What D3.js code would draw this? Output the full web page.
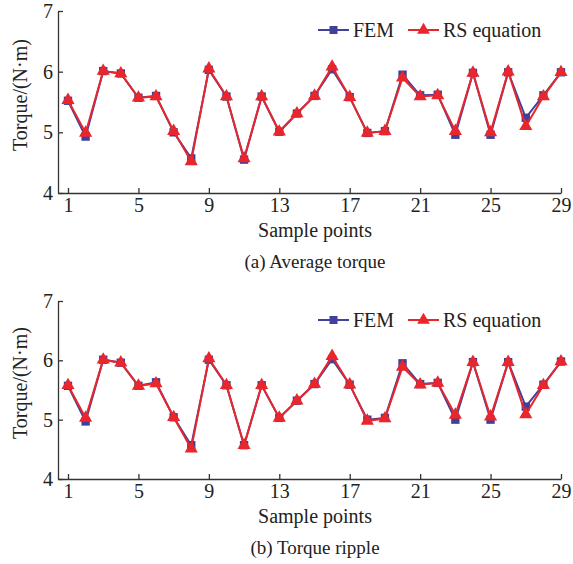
<!DOCTYPE html>
<html>
<head>
<meta charset="utf-8">
<script src="https://cdn.jsdelivr.net/npm/d3@7"></script>
<style>
  body { margin: 0; background: #fff; }
  svg text { font-family: "Liberation Serif", "Times New Roman", serif; fill: #222; }
  .axis path, .axis line { stroke: #333; stroke-width: 1.3; }
</style>
</head>
<body>
<svg id="chart" width="573" height="564"></svg>
<script>
const samples = d3.range(1, 30);
const xTicks = [1, 5, 9, 13, 17, 21, 25, 29];
const yTicks = [4, 5, 6, 7];

// (a) Average torque
const avgFEM = [5.52, 4.93, 6.01, 5.97, 5.57, 5.60, 5.00, 4.57, 6.03, 5.59,
                4.55, 5.59, 5.01, 5.31, 5.60, 6.04, 5.58, 4.99, 5.02, 5.95,
                5.61, 5.62, 4.96, 5.98, 4.96, 5.99, 5.24, 5.61, 5.99];
const avgRS  = [5.53, 4.99, 6.01, 5.97, 5.57, 5.59, 5.02, 4.52, 6.05, 5.59,
                4.57, 5.59, 5.01, 5.31, 5.60, 6.08, 5.58, 4.99, 5.02, 5.90,
                5.59, 5.61, 5.02, 5.98, 5.00, 6.00, 5.10, 5.59, 5.99];

// (b) Torque ripple
const ripFEM = [5.57, 4.97, 6.01, 5.96, 5.57, 5.63, 5.04, 4.57, 6.01, 5.58,
                4.57, 5.58, 5.03, 5.32, 5.60, 6.02, 5.59, 5.00, 5.03, 5.95,
                5.60, 5.62, 5.00, 5.97, 5.00, 5.97, 5.22, 5.59, 5.98];
const ripRS  = [5.58, 5.03, 6.01, 5.96, 5.57, 5.61, 5.04, 4.51, 6.03, 5.58,
                4.57, 5.58, 5.03, 5.32, 5.60, 6.07, 5.59, 4.98, 5.02, 5.89,
                5.59, 5.62, 5.08, 5.97, 5.05, 5.97, 5.09, 5.58, 5.98];

const seriesNames = ["FEM", "RS equation"];
const colors = {"FEM": "#41419a", "RS equation": "#e8262b"};

const svg = d3.select("#chart");

const styleAxis = a => {
  a.attr("font-family", null).attr("font-size", null);
  a.selectAll("text").attr("font-size", 20).attr("fill", "#222");
};

const drawPanel = (top, bottom, fem, rs, title) => {
  const left = 58, right = 561, first = 68;
  // x=1 sits a little right of the y axis
  const unit = (right - first) / 28;
  const x = d3.scaleLinear().domain([1 - (first - left) / unit, 29]).range([left, right]);
  const y = d3.scaleLinear().domain([4, 7]).range([bottom, top]);
  const g = svg.append("g");

  g.append("g").attr("class", "axis")
    .attr("transform", `translate(0,${bottom})`)
    .call(d3.axisBottom(x).tickValues(xTicks).tickFormat(d3.format("d"))
      .tickSizeInner(-5).tickSizeOuter(0).tickPadding(5))
    .call(styleAxis);

  g.append("g").attr("class", "axis")
    .attr("transform", `translate(${left},0)`)
    .call(d3.axisLeft(y).tickValues(yTicks).tickFormat(d3.format("d"))
      .tickSizeInner(-5).tickSizeOuter(0).tickPadding(5))
    .call(styleAxis);

  g.append("text")
    .attr("transform", `translate(27,${(top + bottom) / 2 - 7}) rotate(-90)`)
    .attr("text-anchor", "middle")
    .attr("font-size", 20)
    .text("Torque/(N·m)");

  g.append("text")
    .attr("x", 315).attr("y", bottom + 44)
    .attr("text-anchor", "middle")
    .attr("font-size", 20)
    .text("Sample points");

  g.append("text")
    .attr("x", 315).attr("y", bottom + 75)
    .attr("text-anchor", "middle")
    .attr("font-size", 19)
    .text(title);

  const line = d3.line().x((d, i) => x(samples[i])).y(d => y(d));
  const data = [["FEM", fem], ["RS equation", rs]];

  data.forEach(([name, vals]) => {
    g.append("path")
      .attr("d", line(vals))
      .attr("fill", "none")
      .attr("stroke", colors[name])
      .attr("stroke-width", 2);
    const sym = name === "FEM" ? d3.symbolSquare : d3.symbolTriangle;
    const size = name === "FEM" ? 70 : 75;
    g.selectAll(null).data(vals).enter()
      .append("path")
      .attr("d", d3.symbol().type(sym).size(size))
      .attr("transform", (d, i) => `translate(${x(samples[i])},${y(d)})`)
      .attr("fill", colors[name]);
  });

  // legend
  const ly = top + 19;
  const legendX = [318, 408];
  seriesNames.forEach((name, i) => {
    const lx = legendX[i];
    g.append("line")
      .attr("x1", lx).attr("x2", lx + 31)
      .attr("y1", ly).attr("y2", ly)
      .attr("stroke", colors[name]).attr("stroke-width", 2);
    g.append("path")
      .attr("d", d3.symbol().type(i === 0 ? d3.symbolSquare : d3.symbolTriangle).size(i === 0 ? 64 : 70))
      .attr("transform", `translate(${lx + 15.5},${ly})`)
      .attr("fill", colors[name]);
    g.append("text")
      .attr("x", lx + 35).attr("y", ly + 7)
      .attr("font-size", 20)
      .text(name);
  });
};

drawPanel(11, 193, avgFEM, avgRS, "(a) Average torque");
drawPanel(301, 479, ripFEM, ripRS, "(b) Torque ripple");
</script>
</body>
</html>
